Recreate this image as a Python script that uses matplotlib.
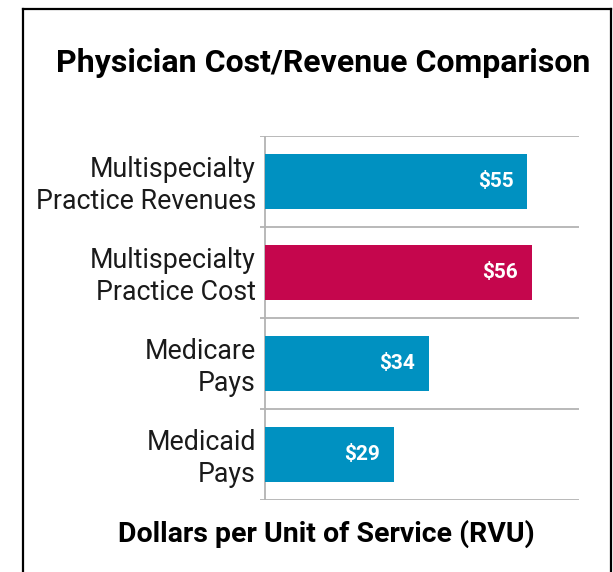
import matplotlib
matplotlib.use("Agg")
import matplotlib.pyplot as plt
from matplotlib.lines import Line2D

categories = ["Multispecialty\nPractice Revenues", "Multispecialty\nPractice Cost",
              "Medicare\nPays", "Medicaid\nPays"]
values = [55, 56, 34.4, 27.0]
value_labels = ["$55", "$56", "$34", "$29"]
colors = ["#0091c1", "#c5064d", "#0091c1", "#0091c1"]
title = "Physician Cost/Revenue Comparison"
xlabel = "Dollars per Unit of Service (RVU)"

W, H = 613, 572
fig = plt.figure(figsize=(W / 100, H / 100), dpi=100)

bold_fam = ["Roboto", "DejaVu Sans"]
light_fam = ["Roboto", "DejaVu Sans"]

# axes in pixel coordinates
ax_left, ax_right, ax_top, ax_bottom = 260, 579, 136, 500
ax = fig.add_axes([ax_left / W, 1 - ax_bottom / H, (ax_right - ax_left) / W, (ax_bottom - ax_top) / H])
px_per_unit = 4.77
xmin = -(265 - ax_left) / px_per_unit
xmax = (ax_right - 265) / px_per_unit
ax.set_xlim(xmin, xmax)
n = len(categories)
ax.set_ylim(n - 0.5, -0.5)

ypos = list(range(n))
ax.barh(ypos, values, height=0.6, color=colors, zorder=3)

for y, v, lab in zip(ypos, values, value_labels):
    ax.text(v - 14 / px_per_unit, y, lab, ha="right", va="center", color="white",
            fontsize=15, fontweight="bold", family=bold_fam, zorder=4)

for b in [i - 0.5 for i in range(n + 1)]:
    ax.axhline(b, color="#b3b3b3", lw=1.3, zorder=2)
ax.axvline(0, color="#b3b3b3", lw=1.3, zorder=2)

for s in ax.spines.values():
    s.set_visible(False)
ax.set_xticks([])
ax.set_yticks([])
ax.patch.set_alpha(0)

# category labels
for y, c in zip(ypos, categories):
    ax.annotate(c, xy=(0, y), xycoords="data", xytext=(-9, -4), textcoords="offset pixels",
                ha="right", va="center", fontsize=19.3, family=light_fam, fontweight="normal",
                color="#1a1a1a", linespacing=1.22, annotation_clip=False)

fig.text(323.5 / W, 1 - 63 / H, title, ha="center", va="center", fontsize=23,
         fontweight="bold", family=bold_fam, color="black")
fig.text(326 / W, 1 - 534 / H, xlabel, ha="center", va="center", fontsize=20.5,
         fontweight="bold", family=bold_fam, color="black")

# border
bx1, bx2, by = 23 / W, 611 / W, 1 - 9 / H
for line in [([bx1, bx1], [0, by]), ([bx1, bx2], [by, by]), ([bx2, bx2], [by, 0])]:
    fig.add_artist(Line2D(line[0], line[1], color="black", lw=1.6, transform=fig.transFigure))

fig.savefig("out.png", dpi=100)
